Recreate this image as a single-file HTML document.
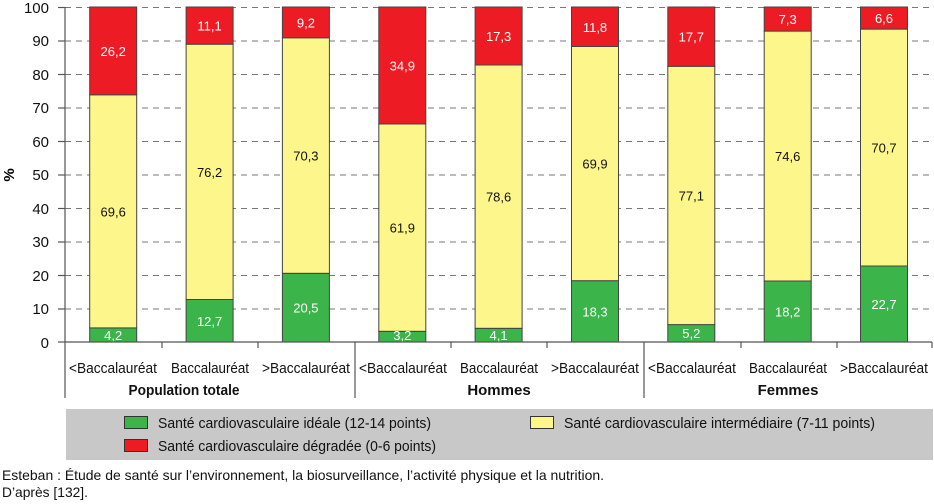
<!DOCTYPE html>
<html><head><meta charset="utf-8"><style>
body{margin:0;background:#fff}
svg{display:block;font-family:"Liberation Sans",sans-serif}
</style></head><body>
<svg width="934" height="504" viewBox="0 0 934 504" xmlns="http://www.w3.org/2000/svg">
<g stroke="#777" stroke-width="1" stroke-dasharray="6,5">
<line x1="65" x2="932" y1="7.5" y2="7.5"/><line x1="65" x2="932" y1="41" y2="41"/><line x1="65" x2="932" y1="74.5" y2="74.5"/><line x1="65" x2="932" y1="108" y2="108"/><line x1="65" x2="932" y1="141.5" y2="141.5"/><line x1="65" x2="932" y1="175" y2="175"/><line x1="65" x2="932" y1="208.5" y2="208.5"/><line x1="65" x2="932" y1="242" y2="242"/><line x1="65" x2="932" y1="275.5" y2="275.5"/><line x1="65" x2="932" y1="309" y2="309"/>
</g>
<g font-size="15" text-anchor="end" fill="#111">
<text x="49" y="13">100</text><text x="49" y="46">90</text><text x="49" y="80">80</text><text x="49" y="113">70</text><text x="49" y="147">60</text><text x="49" y="180">50</text><text x="49" y="214">40</text><text x="49" y="247">30</text><text x="49" y="281">20</text><text x="49" y="314">10</text><text x="49" y="348">0</text>
</g>
<g stroke="#555" stroke-width="1.2">
<line x1="58" x2="65" y1="7.5" y2="7.5"/><line x1="58" x2="65" y1="41" y2="41"/><line x1="58" x2="65" y1="74.5" y2="74.5"/><line x1="58" x2="65" y1="108" y2="108"/><line x1="58" x2="65" y1="141.5" y2="141.5"/><line x1="58" x2="65" y1="175" y2="175"/><line x1="58" x2="65" y1="208.5" y2="208.5"/><line x1="58" x2="65" y1="242" y2="242"/><line x1="58" x2="65" y1="275.5" y2="275.5"/><line x1="58" x2="65" y1="309" y2="309"/><line x1="58" x2="65" y1="342" y2="342"/>
</g>
<text x="14" y="175" font-size="15" font-weight="bold" transform="rotate(-90 14 175)" text-anchor="middle">%</text>
<g stroke="#444" stroke-width="1">
<rect x="89.7" y="327.9" width="47" height="14.1" fill="#3bb54a"/><rect x="89.7" y="94.8" width="47" height="233.1" fill="#fdf68b"/><rect x="89.7" y="7" width="47" height="87.8" fill="#ed1c24"/>
<rect x="186.1" y="299.5" width="47" height="42.5" fill="#3bb54a"/><rect x="186.1" y="44.2" width="47" height="255.3" fill="#fdf68b"/><rect x="186.1" y="7" width="47" height="37.2" fill="#ed1c24"/>
<rect x="282.4" y="273.3" width="47" height="68.7" fill="#3bb54a"/><rect x="282.4" y="37.8" width="47" height="235.5" fill="#fdf68b"/><rect x="282.4" y="7" width="47" height="30.8" fill="#ed1c24"/>
<rect x="378.8" y="331.3" width="47" height="10.7" fill="#3bb54a"/><rect x="378.8" y="123.9" width="47" height="207.4" fill="#fdf68b"/><rect x="378.8" y="7" width="47" height="116.9" fill="#ed1c24"/>
<rect x="475.1" y="328.3" width="47" height="13.7" fill="#3bb54a"/><rect x="475.1" y="65" width="47" height="263.3" fill="#fdf68b"/><rect x="475.1" y="7" width="47" height="58" fill="#ed1c24"/>
<rect x="571.5" y="280.7" width="47" height="61.3" fill="#3bb54a"/><rect x="571.5" y="46.5" width="47" height="234.2" fill="#fdf68b"/><rect x="571.5" y="7" width="47" height="39.5" fill="#ed1c24"/>
<rect x="667.8" y="324.6" width="47" height="17.4" fill="#3bb54a"/><rect x="667.8" y="66.3" width="47" height="258.3" fill="#fdf68b"/><rect x="667.8" y="7" width="47" height="59.3" fill="#ed1c24"/>
<rect x="764.2" y="281" width="47" height="61" fill="#3bb54a"/><rect x="764.2" y="31.1" width="47" height="249.9" fill="#fdf68b"/><rect x="764.2" y="7" width="47" height="24.1" fill="#ed1c24"/>
<rect x="860.5" y="266" width="47" height="76" fill="#3bb54a"/><rect x="860.5" y="29.1" width="47" height="236.9" fill="#fdf68b"/><rect x="860.5" y="7" width="47" height="22.1" fill="#ed1c24"/>
</g>
<g font-size="13" text-anchor="middle" fill="#fff">
<text x="113.2" y="340">4,2</text><text x="113.2" y="55.9">26,2</text>
<text x="209.6" y="325.8">12,7</text><text x="209.6" y="30.6">11,1</text>
<text x="305.9" y="312.7">20,5</text><text x="305.9" y="27.4">9,2</text>
<text x="402.3" y="340">3,2</text><text x="402.3" y="70.5">34,9</text>
<text x="498.6" y="340">4,1</text><text x="498.6" y="41">17,3</text>
<text x="595" y="316.4">18,3</text><text x="595" y="31.8">11,8</text>
<text x="691.3" y="338">5,2</text><text x="691.3" y="41.7">17,7</text>
<text x="787.7" y="316.5">18,2</text><text x="787.7" y="24">7,3</text>
<text x="884" y="309">22,7</text><text x="884" y="23">6,6</text>
<g fill="#111"><text x="113.2" y="216.4">69,6</text><text x="209.6" y="176.9">76,2</text><text x="305.9" y="160.6">70,3</text><text x="402.3" y="232.6">61,9</text><text x="498.6" y="201.7">78,6</text><text x="595" y="168.6">69,9</text><text x="691.3" y="200.5">77,1</text><text x="787.7" y="161">74,6</text><text x="884" y="152.6">70,7</text></g>
</g>
<g stroke="#555" stroke-width="1.2">
<line x1="65" x2="65" y1="7" y2="398"/>
<line x1="65" x2="932" y1="342" y2="342"/>
<line x1="355" x2="355" y1="342" y2="398"/>
<line x1="644" x2="644" y1="342" y2="398"/>
<line x1="162" x2="162" y1="342" y2="348"/><line x1="258" x2="258" y1="342" y2="348"/>
<line x1="451" x2="451" y1="342" y2="348"/><line x1="547" x2="547" y1="342" y2="348"/>
<line x1="741" x2="741" y1="342" y2="348"/><line x1="837" x2="837" y1="342" y2="348"/>
<line x1="932" x2="932" y1="342" y2="348"/>
</g>
<g font-size="15" text-anchor="middle" fill="#111">
<text x="113" y="373" textLength="88" lengthAdjust="spacingAndGlyphs">&lt;Baccalauréat</text><text x="210" y="373" textLength="78" lengthAdjust="spacingAndGlyphs">Baccalauréat</text><text x="306" y="373" textLength="88" lengthAdjust="spacingAndGlyphs">&gt;Baccalauréat</text>
<text x="403" y="373" textLength="88" lengthAdjust="spacingAndGlyphs">&lt;Baccalauréat</text><text x="499" y="373" textLength="78" lengthAdjust="spacingAndGlyphs">Baccalauréat</text><text x="595" y="373" textLength="88" lengthAdjust="spacingAndGlyphs">&gt;Baccalauréat</text>
<text x="692" y="373" textLength="88" lengthAdjust="spacingAndGlyphs">&lt;Baccalauréat</text><text x="788" y="373" textLength="78" lengthAdjust="spacingAndGlyphs">Baccalauréat</text><text x="884" y="373" textLength="88" lengthAdjust="spacingAndGlyphs">&gt;Baccalauréat</text>
<g font-weight="bold"><text x="184" y="395" textLength="111" lengthAdjust="spacingAndGlyphs">Population totale</text><text x="499" y="395">Hommes</text><text x="788" y="395">Femmes</text></g>
</g>
<rect x="66" y="409" width="867" height="51" fill="#c8c8c9"/>
<g stroke="#333" stroke-width="1">
<rect x="124.5" y="416.5" width="23" height="12" fill="#3bb54a"/>
<rect x="124.5" y="439.5" width="23" height="12" fill="#ed1c24"/>
<rect x="530.5" y="416.5" width="23" height="12" fill="#fdf68b"/>
</g>
<g font-size="15" fill="#111">
<text x="158" y="428" textLength="273" lengthAdjust="spacingAndGlyphs">Santé cardiovasculaire idéale (12-14 points)</text>
<text x="158" y="451" textLength="278" lengthAdjust="spacingAndGlyphs">Santé cardiovasculaire dégradée (0-6 points)</text>
<text x="564" y="428" textLength="311" lengthAdjust="spacingAndGlyphs">Santé cardiovasculaire intermédiaire (7-11 points)</text>
</g>
<g font-size="14" fill="#111">
<text x="2" y="480" textLength="602" lengthAdjust="spacingAndGlyphs">Esteban : Étude de santé sur l’environnement, la biosurveillance, l’activité physique et la nutrition.</text>
<text x="2" y="497" textLength="86" lengthAdjust="spacingAndGlyphs">D’après [132].</text>
</g>
</svg>
</body></html>
